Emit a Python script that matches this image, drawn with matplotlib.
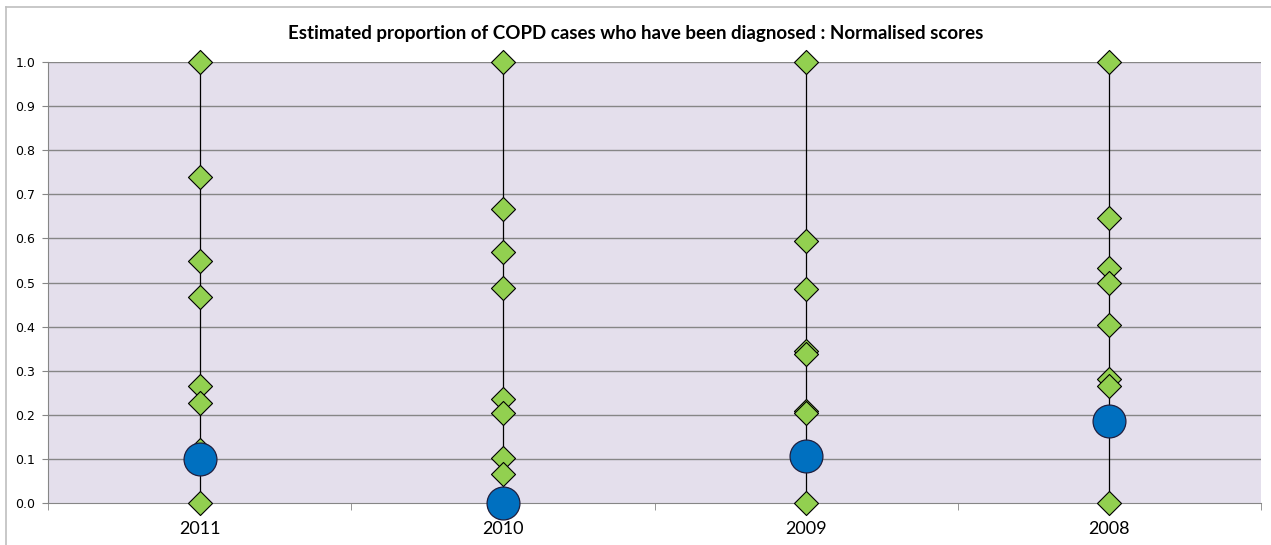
import matplotlib.pyplot as plt
from matplotlib.lines import Line2D

plt.rcParams["font.family"] = ["Lato", "DejaVu Sans"]

years = ["2011", "2010", "2009", "2008"]

# normalised scores of the peer organisations for each year
peer_2011 = [1.0, 0.739, 0.549, 0.466, 0.266, 0.226, 0.12, 0.0]
peer_2010 = [1.0, 0.666, 0.570, 0.487, 0.236, 0.203, 0.103, 0.065, 0.0]
peer_2009 = [1.0, 0.593, 0.485, 0.345, 0.338, 0.208, 0.203, 0.0]
peer_2008 = [1.0, 0.646, 0.532, 0.498, 0.404, 0.281, 0.266, 0.0]
peers = [peer_2011, peer_2010, peer_2009, peer_2008]

# own score for each year
own_score = [0.10, 0.0, 0.107, 0.186]

yticks = [0.0, 0.1, 0.2, 0.3, 0.4, 0.5, 0.6, 0.7, 0.8, 0.9, 1.0]

W, H = 1271, 545
fig = plt.figure(figsize=(W / 100, H / 100), dpi=100)
ax = fig.add_axes([48 / W, 1 - 503 / H, (1261 - 48) / W, (503 - 62) / H])
ax.set_facecolor("#E4DFEC")

grid_col = "#868686"
for y in yticks[1:]:
    ax.axhline(y, color=grid_col, lw=1.0, zorder=1)

for i, vals in enumerate(peers):
    ax.plot([i, i], [min(vals), max(vals)], color="black", lw=0.9, zorder=2)
    ax.scatter([i] * len(vals), vals, marker="D", s=150, color="#92D050",
               edgecolor="black", linewidth=0.8, zorder=3, clip_on=False)

ax.scatter(range(len(years)), own_score, marker="o", s=560, color="#0070C0",
           edgecolor="#1F1F3F", linewidth=0.9, zorder=4, clip_on=False)

ax.set_xlim(-0.5, len(years) - 0.5)
ax.set_ylim(0, 1)
ax.set_yticks(yticks)
ax.set_yticklabels([f"{v:.1f}" for v in yticks], fontsize=9, family="DejaVu Sans")
ax.set_xticks(range(len(years)))
ax.set_xticklabels(years, fontsize=13)
ax.set_xticks([x - 0.5 for x in range(len(years) + 1)], minor=True)
ax.tick_params(axis="x", which="major", length=0, pad=13)
ax.tick_params(axis="x", which="minor", length=5, color=grid_col)
ax.tick_params(axis="y", length=4, color=grid_col, pad=5)

for side in ["top", "right"]:
    ax.spines[side].set_visible(False)
ax.spines["left"].set_color(grid_col)
ax.spines["bottom"].set_color(grid_col)

fig.text(636 / W, 1 - 33 / H,
         "Estimated proportion of COPD cases who have been diagnosed : Normalised scores",
         ha="center", va="center", fontsize=13.5, fontweight="bold")

# chart border
fig.add_artist(Line2D([6 / W, 1], [1 - 7 / H, 1 - 7 / H], transform=fig.transFigure,
                      color="#BFBFBF", lw=1.2))
fig.add_artist(Line2D([6 / W, 6 / W], [0, 1 - 7 / H], transform=fig.transFigure,
                      color="#BFBFBF", lw=1.2))

fig.savefig("out.png", dpi=100)
